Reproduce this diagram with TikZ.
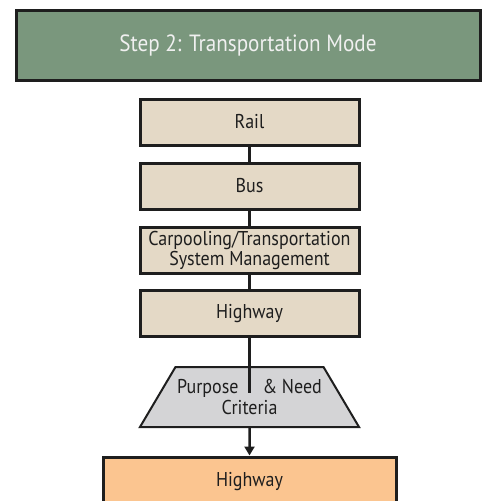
\documentclass[tikz,border=0pt]{standalone}
\usepackage{fontspec}
\setmainfont[FakeStretch=0.9]{PT Sans}
\usepackage{tikz}
\usetikzlibrary{shapes.geometric}
\usetikzlibrary{arrows.meta}
\definecolor{stepgreen}{HTML}{7A977D}
\definecolor{modebeige}{HTML}{E4D9C6}
\definecolor{critgray}{HTML}{D4D4D6}
\definecolor{pickorange}{HTML}{FBC590}
\definecolor{edgeblack}{HTML}{1E1E1E}

\begin{document}
\begin{tikzpicture}[x=1pt,y=-1pt,
    headbox/.style={draw=edgeblack,line width=3pt,fill=stepgreen,text=white!94!black,
        minimum width=464pt,minimum height=70pt,inner sep=0pt,font=\fontsize{23.5}{26}\selectfont},
    modebox/.style={draw=edgeblack,line width=3pt,fill=modebeige,text=edgeblack,
        minimum width=219pt,minimum height=46pt,inner sep=0pt,align=center,
        font=\fontsize{20}{20}\selectfont},
    critbox/.style={trapezium,trapezium stretches body,trapezium left angle=45,trapezium right angle=45,
        draw=edgeblack,line width=2pt,fill=critgray,text=edgeblack,
        minimum width=219pt,minimum height=60pt,inner sep=0pt,align=center,
        font=\fontsize{20}{21}\selectfont},
    pickbox/.style={draw=edgeblack,line width=3pt,fill=pickorange,text=edgeblack,
        minimum width=293pt,minimum height=50pt,inner sep=0pt,font=\fontsize{20}{22}\selectfont},
    link/.style={draw=edgeblack,line width=2.5pt}]
    \useasboundingbox (0,0) rectangle (482,501);
    \node[headbox] (step) at (248,45) {Step 2: Transportation Mode};
    % the four modes
    \foreach \name/\y/\txt in {rail/122/Rail,bus/186/Bus,
            carpool/250/{Carpooling/Transportation\\System Management},hwy/313.5/Highway}
        \node[modebox] (\name) at (249.5,\y) {\txt};
    \node[critbox] (crit) at (249.5,397) {Purpose\hspace{24pt}\& Need\\Criteria};
    \coordinate (critin) at (249.5,393);
    \node[pickbox] (pick) at (249.5,482) {Highway};
    \draw[link] (rail) -- (bus);
    \draw[link] (bus) -- (carpool);
    \draw[link] (carpool) -- (hwy);
    \draw[link] (hwy) -- (critin);
    \draw[link,-{Triangle[length=9pt,width=10pt]}] (crit) -- (pick);
\end{tikzpicture}
\end{document}
